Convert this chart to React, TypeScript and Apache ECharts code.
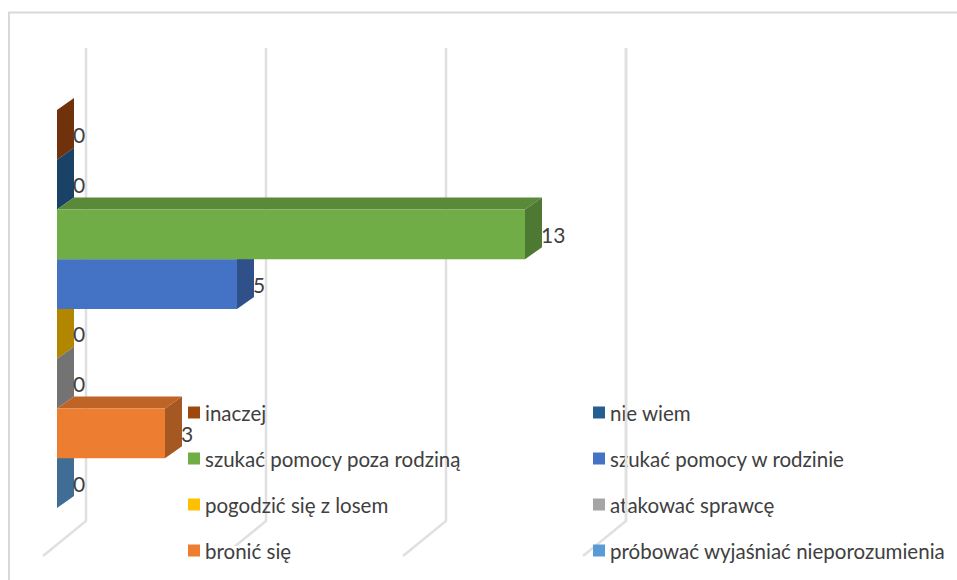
import React, { useEffect, useRef } from "react";
import * as echarts from "echarts";

const categories = [
  "inaczej",
  "nie wiem",
  "szukać pomocy poza rodziną",
  "szukać pomocy w rodzinie",
  "pogodzić się z losem",
  "atakować sprawcę",
  "bronić się",
  "próbować wyjaśniać nieporozumienia",
];
const values = [0, 0, 13, 5, 0, 0, 3, 0];
const barColors = ["#9E480E", "#255E91", "#70AD47", "#4472C4", "#FFC000", "#A5A5A5", "#ED7D31", "#5B9BD5"];
const valueTicks = [0, 5, 10, 15];
const legendLeft = [categories[0], categories[2], categories[4], categories[6]];
const legendRight = [categories[1], categories[3], categories[5], categories[7]];

const DX = 17;
const DY = 12;
const GRID_COLOR = "#E0E0E0";
const TEXT_COLOR = "#404040";
const FONT = "Lato";

function shade(hex: string, f: number) {
  const n = parseInt(hex.slice(1), 16);
  const c = [(n >> 16) & 255, (n >> 8) & 255, n & 255].map((v) => Math.round(v * f));
  return `rgb(${c[0]},${c[1]},${c[2]})`;
}

function renderBar(color: string) {
  return (params: any, api: any) => {
    const value = api.value(0);
    const p0 = api.coord([0, api.value(1)]);
    const p1 = api.coord([value, api.value(1)]);
    const h = api.size([0, 1])[1];
    const x0 = p0[0];
    const x1 = p1[0];
    const t = p0[1] - h / 2;
    const b = p0[1] + h / 2;
    return {
      type: "group",
      children: [
        {
          type: "polygon",
          shape: { points: [[x0, t], [x0 + DX, t - DY], [x1 + DX, t - DY], [x1, t]] },
          style: { fill: shade(color, 0.8) },
        },
        {
          type: "polygon",
          shape: { points: [[x1, t], [x1 + DX, t - DY], [x1 + DX, b - DY], [x1, b]] },
          style: { fill: shade(color, 0.7) },
        },
        {
          type: "rect",
          shape: { x: x0, y: t, width: x1 - x0, height: b - t },
          style: { fill: color },
        },
        {
          type: "text",
          x: x1 + DX - 1,
          y: p0[1],
          style: {
            text: String(value),
            fill: TEXT_COLOR,
            font: `21px ${FONT}`,
            textAlign: "left",
            textVerticalAlign: "middle",
          },
        },
      ],
    };
  };
}

function renderGrid(floor: boolean) {
  return (params: any, api: any) => {
    const x = api.coord([api.value(0), 0])[0];
    const top = params.coordSys.y - 62;
    const bottom = params.coordSys.y + params.coordSys.height + 13;
    const points = floor
      ? [[x + 29, top], [x + 29, bottom], [x - 14, bottom + 35]]
      : [[x + 29, top], [x + 29, bottom]];
    return {
      type: "polyline",
      shape: { points },
      style: { fill: "none", stroke: GRID_COLOR, lineWidth: 2.5 },
    };
  };
}

export default function App() {
  const ref = useRef<HTMLDivElement>(null);

  useEffect(() => {
    document.body.style.margin = "0";
    const chart = echarts.init(ref.current!, undefined, { renderer: "svg" });
    const order = categories.map((_, i) => i).sort((a, b) => values[a] - values[b]);
    const legendBase = {
      orient: "vertical" as const,
      top: 402,
      itemWidth: 12,
      itemHeight: 12,
      itemGap: 25,
      icon: "rect",
      selectedMode: false,
      padding: 0,
      textStyle: { color: TEXT_COLOR, fontSize: 20.5, fontFamily: FONT, lineHeight: 20 },
    };
    chart.setOption({
      animation: false,
      backgroundColor: "#FFFFFF",
      grid: { left: 57, top: 110, width: 540, height: 398 },
      xAxis: { type: "value", min: 0, max: 15, interval: 5, show: false },
      yAxis: { type: "category", data: categories, inverse: true, show: false },
      legend: [
        { ...legendBase, left: 188, data: legendLeft },
        { ...legendBase, left: 593, data: legendRight },
      ],
      graphic: [
        {
          type: "polyline",
          z: 1,
          shape: { points: [[9, 580], [9, 12.5], [957, 12.5]] },
          style: { fill: "none", stroke: "#D9D9D9", lineWidth: 2 },
        },
        {
          type: "rect",
          z: 1.5,
          shape: { x: 185, y: 546, width: 150, height: 30 },
          style: { fill: "#FFFFFF" },
        },
      ],
      series: [
        {
          type: "custom",
          name: "grid",
          z: 1,
          silent: true,
          data: valueTicks.map((v) => [v, 0]),
          encode: { x: 0, y: 1 },
          renderItem: renderGrid(true),
        },
        ...order.map((i) => ({
          type: "custom",
          name: categories[i],
          z: 2,
          itemStyle: { color: barColors[i] },
          data: [[values[i], categories[i]]],
          encode: { x: 0, y: 1 },
          renderItem: renderBar(barColors[i]),
        })),
        {
          type: "custom",
          name: "grid-front",
          z: 5,
          silent: true,
          data: valueTicks.slice(3).map((v) => [v, 0]),
          encode: { x: 0, y: 1 },
          renderItem: renderGrid(false),
        },
      ],
    });
    return () => chart.dispose();
  }, []);

  return <div ref={ref} style={{ width: 957, height: 580 }} />;
}
